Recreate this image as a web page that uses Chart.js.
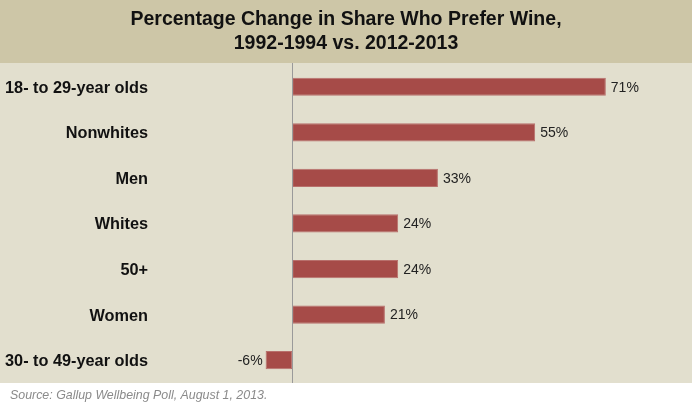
<!DOCTYPE html>
<html>
<head>
<meta charset="utf-8">
<script src="https://cdn.jsdelivr.net/npm/chart.js@4"></script>
<style>
  html, body { margin: 0; padding: 0; background: #ffffff; }
  #wrap { width: 695px; height: 406px; }
</style>
</head>
<body>
<div id="wrap"><canvas id="wineChart" width="695" height="406"></canvas></div>
<script>
const grupos = ["18- to 29-year olds", "Nonwhites", "Men", "Whites", "50+", "Women", "30- to 49-year olds"];
const mudanca = [71, 55, 33, 24, 24, 21, -6];
const tituloLinhas = ["Percentage Change in Share Who Prefer Wine,", "1992-1994 vs. 2012-2013"];
const fonte = "Source: Gallup Wellbeing Poll, August 1, 2013.";

// fundo bege, faixa do titulo, linha do zero, rotulos dos valores e fonte
const decoracao = {
  id: 'decoracao',
  beforeDraw(chart) {
    const ctx = chart.ctx;
    const area = chart.chartArea;
    ctx.save();
    ctx.fillStyle = '#cdc6a7';
    ctx.fillRect(0, 0, 692, 63);
    ctx.fillStyle = '#e2dfce';
    ctx.fillRect(0, 63, 692, area.bottom - 63);
    ctx.restore();
  },
  afterDatasetsDraw(chart) {
    const ctx = chart.ctx;
    const area = chart.chartArea;
    const x0 = chart.scales.x.getPixelForValue(0);
    ctx.save();
    ctx.strokeStyle = '#9a9a9a';
    ctx.lineWidth = 1;
    ctx.beginPath();
    ctx.moveTo(Math.round(x0) + 0.5, 63);
    ctx.lineTo(Math.round(x0) + 0.5, area.bottom);
    ctx.stroke();

    ctx.font = '14px "Liberation Sans", Arial, sans-serif';
    ctx.fillStyle = '#222222';
    ctx.textBaseline = 'middle';
    chart.getDatasetMeta(0).data.forEach((bar, i) => {
      const v = mudanca[i];
      if (v >= 0) {
        ctx.textAlign = 'left';
        ctx.fillText(v + '%', bar.x + 5, bar.y + 1);
      } else {
        ctx.textAlign = 'right';
        ctx.fillText(v + '%', bar.x - 3, bar.y + 1);
      }
    });

    ctx.font = 'italic 12.4px "Liberation Sans", Arial, sans-serif';
    ctx.fillStyle = '#8a8a8a';
    ctx.textAlign = 'left';
    ctx.fillText(fonte, 10, 396);
    ctx.restore();
  }
};

const ctx = document.getElementById('wineChart').getContext('2d');
new Chart(ctx, {
  type: 'bar',
  data: {
    labels: grupos,
    datasets: [{
      data: mudanca,
      backgroundColor: '#a64b48',
      borderColor: '#b8706c',
      borderWidth: 1,
      borderSkipped: false,
      barPercentage: 0.8,
      categoryPercentage: 0.5
    }]
  },
  options: {
    indexAxis: 'y',
    responsive: false,
    animation: false,
    layout: { padding: { top: 0, right: 3, bottom: 23, left: 0 } },
    plugins: {
      legend: { display: false },
      tooltip: { enabled: false },
      title: {
        display: true,
        text: tituloLinhas,
        color: '#111111',
        font: { family: '"Liberation Sans", Arial, sans-serif', size: 19.5, weight: 'bold', lineHeight: 1.23 },
        padding: { top: 8, bottom: 8 }
      }
    },
    scales: {
      x: {
        display: false,
        min: -29.9,
        max: 90.5
      },
      y: {
        grid: { display: false, drawTicks: false },
        border: { display: false },
        ticks: {
          color: '#111111',
          padding: 12,
          labelOffset: 1.5,
          font: { family: '"Liberation Sans", Arial, sans-serif', size: 16.3, weight: 'bold' }
        },
        afterFit(scale) { scale.width = 160; }
      }
    }
  },
  plugins: [decoracao]
});
</script>
</body>
</html>
